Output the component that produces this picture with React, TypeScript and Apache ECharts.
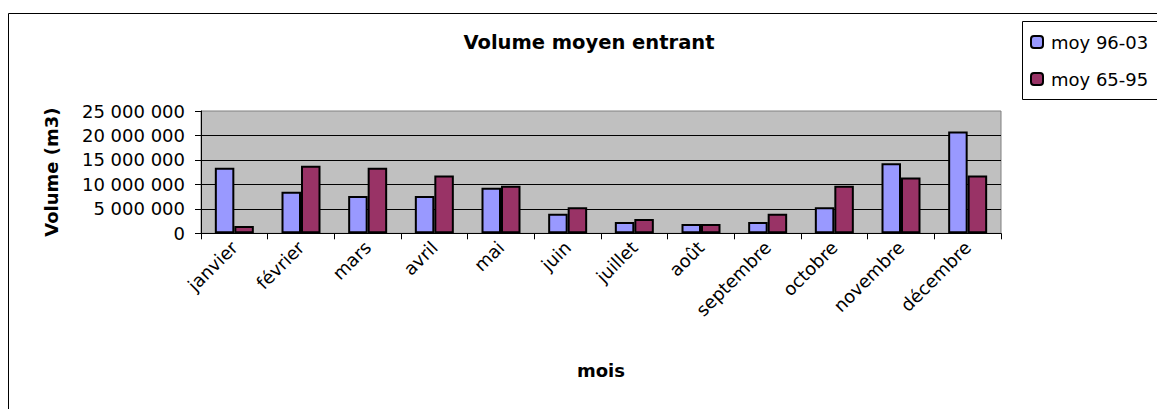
import React, { useEffect, useRef } from "react";
import * as echarts from "echarts";

const categories = ["janvier", "février", "mars", "avril", "mai", "juin", "juillet", "août", "septembre", "octobre", "novembre", "décembre"];
const moy9603 = [13400000, 8500000, 7600000, 7600000, 9300000, 4000000, 2300000, 1900000, 2300000, 5300000, 14300000, 20800000];
const moy6595 = [1500000, 13800000, 13400000, 11800000, 9700000, 5300000, 2900000, 1900000, 4000000, 9700000, 11400000, 11800000];
const seriesNames = ["moy 96-03", "moy 65-95"];
const titleText = "Volume moyen entrant";
const yName = "Volume (m3)";
const xName = "mois";

const FONT = "DejaVu Sans";

function fmt(v: number): string {
  return String(Math.round(v)).replace(/\B(?=(\d{3})+(?!\d))/g, " ");
}

export default function App() {
  const ref = useRef<HTMLDivElement>(null);
  useEffect(() => {
    if (!ref.current) return;
    const chart = echarts.init(ref.current, null, { renderer: "svg" });
    chart.setOption({
      animation: false,
      backgroundColor: "#ffffff",
      textStyle: { fontFamily: FONT },
      graphic: [
        {
          type: "rect",
          shape: { x: 8.5, y: 13.5, width: 1170, height: 420 },
          style: { fill: "none", stroke: "#000", lineWidth: 1 },
          z: -1,
        },
        {
          type: "rect",
          shape: { x: 1022.5, y: 21.5, width: 160, height: 78 },
          style: { fill: "#fff", stroke: "#000", lineWidth: 1 },
          z: 0,
        },
        {
          type: "text",
          x: 589,
          y: 42,
          style: {
            text: titleText,
            fontFamily: FONT,
            fontWeight: "bold",
            fontSize: 19.5,
            fill: "#000",
            align: "center",
            verticalAlign: "middle",
          },
        },
      ],
      legend: {
        orient: "vertical",
        left: 1030,
        top: 33,
        itemWidth: 12,
        itemHeight: 12,
        itemGap: 19,
        padding: 0,
        z: 5,
        textStyle: { fontFamily: FONT, fontSize: 18, color: "#000", padding: [0, 0, 0, 3] },
        data: seriesNames,
      },
      grid: {
        left: 201,
        right: 156,
        top: 111,
        bottom: 175.7,
        show: true,
        backgroundColor: "#C0C0C0",
        borderColor: "#808080",
        borderWidth: 1,
      },
      xAxis: {
        type: "category",
        data: categories,
        name: xName,
        nameLocation: "middle",
        nameGap: 128,
        nameTextStyle: { fontFamily: FONT, fontWeight: "bold", fontSize: 18, color: "#000" },
        axisLine: { show: true, lineStyle: { color: "#000", width: 1 } },
        axisTick: { show: true, length: 6, lineStyle: { color: "#000" } },
        axisLabel: { interval: 0, rotate: 45, margin: 11, fontFamily: FONT, fontSize: 18, color: "#000" },
      },
      yAxis: {
        type: "value",
        min: 0,
        max: 25000000,
        interval: 5000000,
        name: yName,
        nameLocation: "middle",
        nameGap: 141,
        nameTextStyle: { fontFamily: FONT, fontWeight: "bold", fontSize: 18, color: "#000" },
        axisLine: { show: true, lineStyle: { color: "#000", width: 1 } },
        axisTick: { show: true, length: 6, lineStyle: { color: "#000" } },
        axisLabel: { margin: 16, fontFamily: FONT, fontSize: 18, color: "#000", formatter: (v: number) => fmt(v) },
        splitLine: { show: true, showMaxLine: false, lineStyle: { color: "#000", width: 1 } },
      },
      series: [
        {
          name: seriesNames[0],
          type: "bar",
          data: moy9603,
          barWidth: 19.5,
          barGap: "0%",
          itemStyle: { color: "#9999FF", borderColor: "#000", borderWidth: 2 },
        },
        {
          name: seriesNames[1],
          type: "bar",
          data: moy6595,
          barWidth: 19.5,
          barGap: "0%",
          itemStyle: { color: "#993366", borderColor: "#000", borderWidth: 2 },
        },
      ],
    });
    return () => chart.dispose();
  }, []);
  return <div ref={ref} style={{ position: "fixed", left: 0, top: 0, width: 1157, height: 409 }} />;
}
